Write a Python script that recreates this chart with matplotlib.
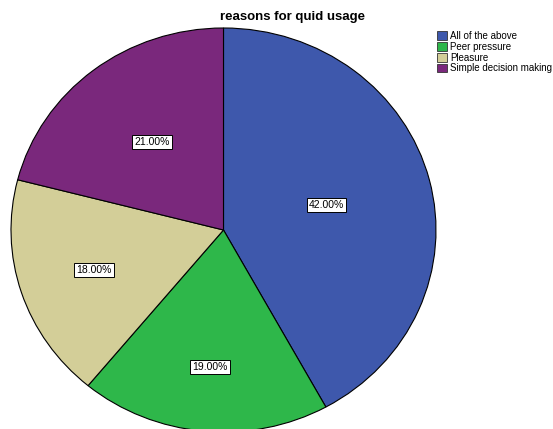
import matplotlib.pyplot as plt
import numpy as np
from matplotlib.patches import Patch

categories = ['All of the above', 'Peer pressure', 'Pleasure', 'Simple decision making']
percents = [42.0, 19.0, 18.0, 21.0]
colors = ['#3E58AC', '#2EB74A', '#D3CE98', '#7A287C']
label_dist = [0.5, 0.68, 0.64, 0.55]

fig = plt.figure(figsize=(5.53, 4.29), dpi=100)
ax = fig.add_axes([11 / 553, -3 / 429, 425 / 553, 404 / 429])

wedges, _ = ax.pie(percents, colors=colors, startangle=90, counterclock=False,
                   wedgeprops={'edgecolor': 'black', 'linewidth': 0.8})
ax.set_aspect('auto')
ax.set_xlim(-1, 1)
ax.set_ylim(-1, 1)
ax.axis('off')

# boxed percent labels inside each slice
for w, p, d in zip(wedges, percents, label_dist):
    ang = np.deg2rad((w.theta1 + w.theta2) / 2)
    ax.text(d * np.cos(ang), d * np.sin(ang), f'{p:.2f}%',
            ha='center', va='center', fontsize=7.5, family='Liberation Sans',
            bbox=dict(boxstyle='square,pad=0.2', fc='white', ec='black', lw=0.7))

fig.text(293 / 553, 1 - 17 / 429, 'reasons for quid usage', ha='center', va='center',
         fontsize=9.5, fontweight='bold', family='Liberation Sans')

handles = [Patch(facecolor=c, edgecolor='#333333', lw=0.6) for c in colors]
fig.legend(handles, categories, loc='upper left', bbox_to_anchor=(437 / 553, 1 - 31 / 429),
           frameon=False, handlelength=1.0, handleheight=1.0,
           handletextpad=0.35, labelspacing=0.08, borderpad=0, borderaxespad=0,
           prop={'family': 'Liberation Sans', 'size': 7})

fig.savefig('out.png', dpi=100)
